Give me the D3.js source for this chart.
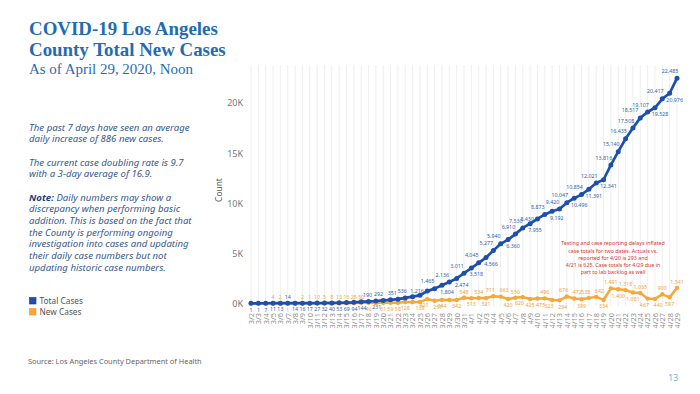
<!DOCTYPE html>
<html><head><meta charset="utf-8">
<script src="https://cdn.jsdelivr.net/npm/d3@7"></script>
<style>body{margin:0;background:#fff}svg{display:block}</style>
</head><body>
<svg id="c" width="700" height="394"></svg>
<script>
// ---------- data ----------
const dates = ["3/2","3/3","3/4","3/5","3/6","3/7","3/8","3/9","3/10","3/11","3/12","3/13","3/14","3/15","3/16","3/17","3/18","3/19","3/20","3/21","3/22","3/23","3/24","3/25","3/26","3/27","3/28","3/29","3/30","3/31",
  "4/1","4/2","4/3","4/4","4/5","4/6","4/7","4/8","4/9","4/10","4/11","4/12","4/13","4/14","4/15","4/16","4/17","4/18","4/19","4/20","4/21","4/22","4/23","4/24","4/25","4/26","4/27","4/28","4/29"];
const totalCases = [1,1,7,11,13,14,14,16,17,27,32,40,53,69,94,144,190,231,292,351,409,536,662,799,1216,1465,1804,2136,2474,3011,
  3518,4045,4566,5277,5940,6360,6910,7530,7955,8430,8873,9192,9420,10047,10496,10854,11391,12021,12341,13816,15140,16435,17508,18517,19107,19528,20417,20976,22485];
const newCases = [1,0,6,4,2,1,0,2,1,10,5,8,13,16,25,50,46,41,61,59,58,128,126,138,421,257,344,332,342,548,
  513,534,521,711,663,420,550,620,425,475,496,323,294,676,472,399,538,642,334,1491,1400,1318,1081,1035,467,440,900,597,1541];
const yTicks = [0,5000,10000,15000,20000];
// label side per point: a = above, b = below, l = left, p/q = below nudged left/right, u/v = above nudged left/right, - = hidden
const totalLabelSide = ("bbbbbabbbb"+"bbbbbbabuv"+"-a--lababa"+"babaabaabl"+"abaabababa"+"aaauababa").split("");
const newLabelSide   = ("---aab-aaa"+"aaaaaab-bb"+"bb-bpqb-ba"+"babuvbapbq"+"apquvbuvba"+"babapqaba").split("");
const seriesNames = ["Total Cases","New Cases"];
const noteLines = [
  "The past 7 days have seen an average","daily increase of 886 new cases.","",
  "The current case doubling rate is 9.7","with a 3-day average of 16.9.","",
  "|Daily numbers may show a","discrepancy when performing basic","addition. This is based on the fact that",
  "the County is performing ongoing","investigation into cases and updating","their daily case numbers but not","updating historic case numbers."];
const annotationLines = ["Testing and case reporting delays inflated","case totals for two dates.  Actuals vs.",
  "reported for 4/20 is 293 and","4/21 is 625. Case totals for 4/29 due in","part to lab backlog as well"];

// ---------- drawing ----------
const svg = d3.select("#c");
const BLUE = "#1d4fae", ORANGE = "#f5a83a", TITLE = "#1f6cb2", NOTE = "#38598c";
const SANS = "'Noto Sans', 'Open Sans', sans-serif";

const x = d3.scalePoint().domain(dates).range([251, 677]);
const y = d3.scaleLinear().domain([0, 23800]).range([303.3, 65]);

function fit(sel, target){ const w = sel.node().getComputedTextLength(); const fs = parseFloat(sel.attr("font-size")); sel.attr("font-size", fs*target/w); return fs*target/w; }

// title
const t1 = svg.append("text").attr("x",29).attr("y",35).attr("font-family","'Liberation Serif', 'DejaVu Serif', serif")
  .attr("font-weight","bold").attr("font-size",20).attr("fill",TITLE).text("COVID-19 Los Angeles");
const tfs = fit(t1, 189);
svg.append("text").attr("x",29).attr("y",55.5).attr("font-family","'Liberation Serif', 'DejaVu Serif', serif")
  .attr("font-weight","bold").attr("font-size",tfs).attr("fill",TITLE).text("County Total New Cases");
const st = svg.append("text").attr("x",29).attr("y",73.5).attr("font-family","'Liberation Serif', 'DejaVu Serif', serif")
  .attr("font-size",15).attr("fill",TITLE).text("As of April 29, 2020, Noon");
fit(st, 164);

// note text
const noteG = svg.append("g").attr("font-family",SANS).attr("font-style","italic").attr("font-size",9.6).attr("fill",NOTE);
noteLines.forEach((ln,i)=>{
  if(!ln) return;
  const t = noteG.append("text").attr("x",29).attr("y",130.7 + i*11.67);
  if(ln.startsWith("|")){
    t.append("tspan").attr("font-weight","bold").attr("fill","#1f3f78").text("Note:");
    t.append("tspan").text(" " + ln.slice(1));
  } else t.text(ln);
});

// legend
const legG = svg.append("g").attr("font-family",SANS).attr("font-size",8.3).attr("fill","#555");
[[BLUE,"#12378a"],[ORANGE,"#e8982a"]].forEach((c,i)=>{
  legG.append("rect").attr("x",29.5).attr("y",297.5+i*11).attr("width",6.5).attr("height",6.5).attr("fill",c[0]).attr("stroke",c[1]).attr("stroke-width",0.6);
  legG.append("text").attr("x",39.5).attr("y",303.8+i*11).text(seriesNames[i]);
});

// source + page number
svg.append("text").attr("x",28).attr("y",363.5).attr("font-family",SANS).attr("font-size",7.4).attr("fill","#666")
  .text("Source: Los Angeles County Department of Health");
svg.append("text").attr("x",678).attr("y",381).attr("text-anchor","end").attr("font-family",SANS).attr("font-size",8.5).attr("fill","#6aaed8").text("13");

// gridlines
svg.append("g").selectAll("line").data(dates).join("line")
  .attr("x1",d=>x(d)).attr("x2",d=>x(d)).attr("y1",65).attr("y2",306)
  .attr("stroke","#efefef").attr("stroke-width",1);

// y axis
const yAxis = svg.append("g").attr("transform","translate(245,0)")
  .call(d3.axisLeft(y).tickValues(yTicks).tickSize(0).tickPadding(2).tickFormat(d=>d3.format("d")(d/1000)+"K"));
yAxis.select(".domain").remove();
yAxis.selectAll("text").attr("font-family",SANS).attr("font-size",9).attr("fill","#777");

svg.append("text").attr("transform","translate(221.5,190) rotate(-90)").attr("text-anchor","middle")
  .attr("font-family",SANS).attr("font-size",8.4).attr("fill","#555").text("Count");

// x axis
const xAxis = svg.append("g").attr("transform","translate(0,313)")
  .call(d3.axisBottom(x).tickSize(0).tickPadding(0));
xAxis.select(".domain").remove();
xAxis.selectAll("text").attr("font-family",SANS).attr("font-size",7.4).attr("fill","#8f8f8f")
  .attr("text-anchor","end").attr("dy","0.32em").attr("transform","rotate(-90)").attr("x",0).attr("y",0);

// lines
const line = d3.line().x((d,i)=>x(dates[i])).y(d=>y(d));
function drawSeries(vals, color, r, w){
  const g = svg.append("g");
  g.append("path").attr("d",line(vals)).attr("fill","none").attr("stroke",color).attr("stroke-width",w).attr("stroke-linejoin","round");
  g.selectAll("circle").data(vals).join("circle").attr("cx",(d,i)=>x(dates[i])).attr("cy",d=>y(d)).attr("r",r).attr("fill",color);
}
drawSeries(newCases, ORANGE, 2.2, 2.5);
drawSeries(totalCases, BLUE, 2.5, 2.7);

// data labels
const step = x.step();
function labels(vals, sides, color, slopeShift){
  const g = svg.append("g").attr("font-family",SANS).attr("font-size",5.3).attr("fill",color).attr("text-anchor","middle");
  vals.forEach((v,i)=>{
    const s = sides[i]; if(s==="-") return;
    const a = vals[Math.max(0,i-1)], b = vals[Math.min(vals.length-1,i+1)];
    const span = (Math.min(vals.length-1,i+1) - Math.max(0,i-1)) * step;
    const slope = (y(a) - y(b)) / span;
    const k = slopeShift ? Math.min(1, Math.max(0, slope)/0.4) : 0;
    const px = x(dates[i]), py = y(v), txt = d3.format(",")(v);
    const up = py - 4.2 - 1.2*k, dn = py + 8.3;
    if(s==="a") g.append("text").attr("x",px - 7*k).attr("y",up).text(txt);
    else if(s==="u") g.append("text").attr("x",px - 7*k - 3.2).attr("y",up).text(txt);
    else if(s==="v") g.append("text").attr("x",px - 7*k + 3.2).attr("y",up).text(txt);
    else if(s==="l") g.append("text").attr("x",px - 3.5).attr("y",py + 2).attr("text-anchor","end").text(txt);
    else if(s==="p") g.append("text").attr("x",px - 3.2).attr("y",dn).text(txt);
    else if(s==="q") g.append("text").attr("x",px + 3.2).attr("y",dn).text(txt);
    else g.append("text").attr("x",px + 5*k).attr("y",dn).text(txt);
  });
}
labels(newCases, newLabelSide, "#f0a43c", false);
labels(totalCases, totalLabelSide, "#2d5fae", true);

// annotation
const an = svg.append("g").attr("font-family",SANS).attr("font-size",5.3).attr("fill","#d8342e").attr("text-anchor","middle");
annotationLines.forEach((ln,i)=> an.append("text").attr("x",613).attr("y",245.2 + i*7.3).text(ln));
</script>
</body></html>
